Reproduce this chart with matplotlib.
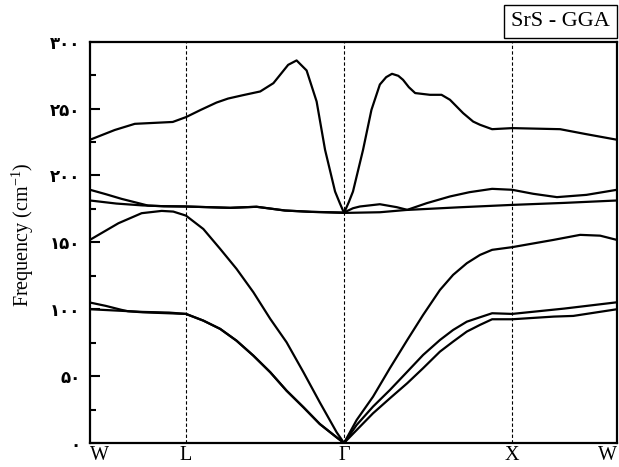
import numpy as np
import matplotlib
matplotlib.use('Agg')
import matplotlib.pyplot as plt

plt.rcParams['mathtext.fontset'] = 'custom'
plt.rcParams['mathtext.rm'] = 'Liberation Serif'

# high symmetry points (normalised path coordinate)
kpts = [0.0, 0.182, 0.482, 0.801, 1.0]
klabels = ['W', 'L', '\u0393', 'X', 'W']

yticks = [0, 50, 100, 150, 200, 250, 300]
ytick_labels = ['\u06f0', '\u06f5\u06f0', '\u06f1\u06f0\u06f0', '\u06f1\u06f5\u06f0',
                '\u06f2\u06f0\u06f0', '\u06f2\u06f5\u06f0', '\u06f3\u06f0\u06f0']

# branches: k, frequency (cm-1)
k_lo = [0.0, 0.047, 0.085, 0.157, 0.182, 0.21, 0.24, 0.262, 0.29, 0.323, 0.348, 0.376, 0.392,
        0.411, 0.43, 0.446, 0.465, 0.474, 0.482, 0.491, 0.499, 0.518, 0.534, 0.55, 0.562,
        0.573, 0.585, 0.594, 0.605, 0.617, 0.645, 0.667, 0.683, 0.708, 0.727, 0.74, 0.763,
        0.801, 0.892, 0.94, 1.0]
f_lo = [226.7, 234.0, 238.6, 240.0, 243.6, 249.0, 254.5, 257.5, 260.0, 262.8, 269.0, 282.7, 286.0,
        278.5, 255.3, 219.2, 188.0, 179.3, 172.0, 180.0, 188.0, 219.0, 249.0, 268.0, 273.5,
        276.0, 274.5, 271.5, 266.0, 261.6, 260.3, 260.3, 256.6, 246.6, 240.3, 237.9, 234.6,
        235.4, 234.6, 231.0, 226.7]

k_to1 = [0.0, 0.03, 0.06, 0.09, 0.11, 0.14, 0.182, 0.266, 0.316, 0.37, 0.42, 0.482,
         0.499, 0.512, 0.55, 0.582, 0.602, 0.639, 0.683, 0.72, 0.763, 0.801, 0.841, 0.886,
         0.942, 1.0]
f_to1 = [189.3, 186.0, 182.5, 179.5, 177.5, 177.0, 176.8, 175.8, 176.6, 173.8, 172.8, 172.3,
         175.5, 176.8, 178.5, 176.3, 174.3, 179.3, 184.3, 187.5, 190.0, 189.3, 186.3, 183.8,
         185.5, 189.3]

k_to2 = [0.0, 0.05, 0.1, 0.14, 0.182, 0.266, 0.316, 0.37, 0.42, 0.482, 0.55, 0.6, 0.7,
         0.801, 0.9, 1.0]
f_to2 = [181.3, 179.0, 177.6, 177.0, 176.8, 175.8, 176.6, 173.8, 172.8, 172.0, 172.5, 174.2,
         176.2, 178.0, 179.5, 181.3]

k_la = [0.0, 0.054, 0.098, 0.136, 0.158, 0.182, 0.215, 0.247, 0.278, 0.310, 0.342, 0.373,
        0.405, 0.436, 0.468, 0.482, 0.506, 0.537, 0.569, 0.602, 0.632, 0.664, 0.689, 0.715,
        0.740, 0.763, 0.801, 0.879, 0.93, 0.968, 1.0]
f_la = [151.9, 164.3, 171.8, 173.5, 173.0, 170.0, 160.0, 145.1, 130.2, 112.7, 92.8, 75.3,
        52.9, 30.4, 8.0, 0.0, 17.2, 34.6, 55.9, 77.0, 95.7, 114.4, 125.7, 134.4,
        140.6, 144.4, 146.4, 151.8, 155.6, 155.0, 151.8]

k_ta1 = [0.0, 0.03, 0.06, 0.072, 0.1, 0.182, 0.215, 0.247, 0.278, 0.310, 0.342, 0.373,
         0.405, 0.436, 0.468, 0.482, 0.506, 0.537, 0.569, 0.602, 0.632, 0.664, 0.689, 0.715,
         0.740, 0.763, 0.801, 0.9, 1.0]
f_ta1 = [105.0, 102.5, 99.5, 98.5, 97.7, 96.5, 91.5, 85.3, 76.5, 65.3, 52.9, 39.1,
         26.7, 14.2, 4.2, 0.0, 13.5, 27.2, 39.6, 53.3, 65.8, 77.0, 84.5, 90.7,
         94.0, 97.0, 96.5, 100.5, 105.2]

k_ta2 = [0.0, 0.05, 0.1, 0.15, 0.182, 0.215, 0.247, 0.278, 0.310, 0.342, 0.373,
         0.405, 0.436, 0.468, 0.482, 0.506, 0.537, 0.569, 0.602, 0.632, 0.664, 0.689, 0.715,
         0.740, 0.763, 0.801, 0.88, 0.917, 1.0]
f_ta2 = [100.0, 99.0, 98.0, 97.5, 96.5, 91.5, 85.3, 76.5, 65.3, 52.9, 39.1,
         26.7, 14.2, 4.2, 0.0, 9.7, 22.2, 33.4, 44.7, 55.9, 68.3, 75.8, 83.3,
         88.3, 92.5, 92.5, 94.5, 95.0, 100.0]

branches = [(k_lo, f_lo), (k_to1, f_to1), (k_to2, f_to2),
            (k_la, f_la), (k_ta1, f_ta1), (k_ta2, f_ta2)]

fig = plt.figure(figsize=(6.19, 4.67), dpi=100)
ax = fig.add_axes([0.1454, 0.0514, 0.8514, 0.8593])

for k, f in branches:
    ax.plot(k, f, color='black', lw=1.6, solid_joinstyle='round')

for kp in kpts[1:-1]:
    ax.axvline(kp, color='black', lw=0.8, ls=(0, (3, 2)))

ax.set_xlim(0, 1)
ax.set_ylim(0, 300)

ax.set_xticks([])
ax.set_yticks(yticks)
ax.set_yticklabels(ytick_labels, fontfamily=['DejaVu Sans'], fontweight='bold', fontsize=12)
ax.set_yticks(np.arange(25, 300, 50), minor=True)
ax.tick_params(axis='y', which='major', direction='in', length=7, width=1.5, pad=7)
ax.tick_params(axis='y', which='minor', direction='in', length=4, width=1.5)

for sp in ax.spines.values():
    sp.set_linewidth(1.6)

for i, (kp, lab) in enumerate(zip(kpts, klabels)):
    ha = 'center'
    if i == 0:
        ha = 'left'
    elif i == len(kpts) - 1:
        ha = 'right'
    ax.text(kp, -2, lab, ha=ha, va='top', fontsize=14.5, fontfamily='Liberation Serif')

ax.set_ylabel('Frequency (cm$^{-1}$)', fontsize=14.5, fontfamily='Liberation Serif')
ax.yaxis.set_label_coords(-0.102, 0.52)

fig.text(0.9055, 0.954, 'SrS - GGA', ha='center', va='center', fontsize=16,
         fontfamily='Liberation Serif',
         bbox=dict(boxstyle='square,pad=0.32', fc='white', ec='black', lw=1))

fig.savefig('out.png', dpi=100)
